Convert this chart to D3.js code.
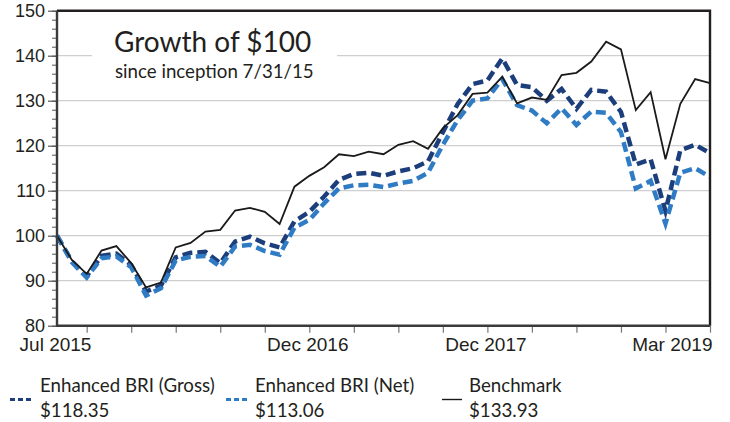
<!DOCTYPE html>
<html>
<head>
<meta charset="utf-8">
<script src="https://cdn.jsdelivr.net/npm/d3@7"></script>
<style>
  html, body { margin: 0; padding: 0; background: #fff; }
  svg { display: block; }
  .axis text { font-family: "Liberation Sans", Arial, sans-serif; fill: #231f20; }
  .note { font-family: Lato, "Open Sans", sans-serif; fill: #231f20; }
</style>
</head>
<body>
<svg id="chart" width="730" height="422"></svg>
<script>
// Month-end values of a $100 investment, Jul 2015 through Mar 2019
const months = d3.timeMonth.range(new Date(2015, 6, 1), new Date(2019, 3, 1));

const gross = [100, 94.3, 91.0, 95.5, 96.0, 93.5, 87.6, 88.9, 95.2, 96.2, 96.4, 93.9,
  98.7, 99.8, 98.3, 97.4, 103.2, 105.3, 108.7, 112.4, 113.7, 114.0, 113.3, 114.3,
  115.0, 116.5, 123.0, 129.3, 133.7, 134.5, 139.4, 133.5, 133.0, 130.0, 132.6, 128.2,
  132.4, 132.0, 127.5, 115.8, 117.0, 105.5, 119.0, 120.2, 118.35];

const net = [100, 94.1, 90.7, 95.0, 95.4, 93.0, 86.7, 88.3, 94.5, 95.3, 95.5, 93.1,
  97.6, 98.0, 96.6, 95.8, 101.8, 103.5, 107.2, 110.5, 111.2, 111.3, 110.8, 111.6,
  112.2, 114.0, 120.2, 125.7, 130.0, 130.5, 134.8, 129.0, 127.8, 125.0, 128.3, 124.6,
  127.6, 127.3, 123.0, 110.5, 112.2, 102.7, 114.0, 115.0, 113.06];

const benchmark = [100, 94.6, 91.5, 96.7, 97.7, 93.9, 88.5, 89.6, 97.4, 98.4, 100.9, 101.3,
  105.6, 106.2, 105.3, 102.6, 110.9, 113.3, 115.2, 118.1, 117.7, 118.7, 118.1, 120.2,
  121.0, 119.3, 123.9, 126.8, 131.5, 131.8, 135.3, 129.4, 130.7, 130.2, 135.7, 136.2,
  138.7, 143.1, 141.4, 127.9, 131.9, 117.0, 129.3, 134.8, 133.93];

const yTicks = [80, 90, 100, 110, 120, 130, 140, 150];
const xLabels = ["Jul 2015", "Dec 2016", "Dec 2017", "Mar 2019"];

const seriesNames = ["Enhanced BRI (Gross)", "Enhanced BRI (Net)", "Benchmark"];
const seriesEnds = [gross, net, benchmark].map(s => s[s.length - 1]);

const fmtMonth = d3.timeFormat("%b %Y");

const svg = d3.select("#chart");
const plotL = 57, plotR = 710, plotT = 10.7, plotB = 325.7;

const x = d3.scaleLinear().domain([0, months.length - 1]).range([plotL, plotR]);
const y = d3.scaleLinear().domain([80, 150]).range([plotB, plotT]);

// horizontal gridlines
svg.append("g")
  .selectAll("line")
  .data(yTicks.filter(v => v > 80 && v < 150))
  .join("line")
  .attr("x1", plotL).attr("x2", plotR)
  .attr("y1", d => y(d)).attr("y2", d => y(d))
  .attr("stroke", "#cfcfcf").attr("stroke-width", 1.3);

// title panel sits over the grid
svg.append("rect")
  .attr("x", 92).attr("y", 20).attr("width", 245).attr("height", 72)
  .attr("fill", "#fff");

svg.append("text").attr("class", "note")
  .attr("x", 114).attr("y", 52)
  .attr("font-size", 28)
  .text("Growth of $100");
svg.append("text").attr("class", "note")
  .attr("x", 115).attr("y", 78)
  .attr("font-size", 18.7)
  .text("since inception 7/31/15");

// quarter-end tick marks along the bottom
const quarterIdx = months.map((m, i) => i).filter(i => months[i].getMonth() % 3 === 2);
svg.append("g").attr("class", "axis")
  .attr("transform", `translate(0,${plotB})`)
  .call(d3.axisBottom(x).tickValues(quarterIdx).tickSize(7).tickFormat(""))
  .call(g => g.select(".domain").remove())
  .call(g => g.selectAll(".tick line").attr("stroke", "#777").attr("stroke-width", 1.2));

// date labels
const labelIdx = xLabels.map(l => months.findIndex(m => fmtMonth(m) === l));
svg.append("g").attr("class", "axis")
  .attr("transform", `translate(0,${plotB})`)
  .call(d3.axisBottom(x).tickValues(labelIdx).tickSize(0).tickPadding(12)
    .tickFormat(i => fmtMonth(months[i])))
  .call(g => g.select(".domain").remove())
  .call(g => g.selectAll(".tick text").attr("font-size", 19).attr("dx", -2))
  .call(g => g.selectAll(".tick").filter(i => i === months.length - 1)
    .select("text").attr("text-anchor", "end").attr("dx", 2));

// y axis: minor ticks every 2, labelled majors every 10
svg.append("g").attr("class", "axis")
  .attr("transform", `translate(${plotL},0)`)
  .call(d3.axisLeft(y).tickValues(d3.range(80, 151, 2)).tickSize(5).tickFormat(""))
  .call(g => g.select(".domain").remove())
  .call(g => g.selectAll(".tick line").attr("stroke", "#555").attr("stroke-width", 1));
svg.append("g").attr("class", "axis")
  .attr("transform", `translate(${plotL},0)`)
  .call(d3.axisLeft(y).tickValues(yTicks).tickSize(9).tickPadding(3).tickFormat(d3.format("d")))
  .call(g => g.select(".domain").remove())
  .call(g => g.selectAll(".tick line").attr("stroke", "#555").attr("stroke-width", 1.2))
  .call(g => g.selectAll(".tick text").attr("font-size", 18));

// series lines
const line = d3.line().x((d, i) => x(i)).y(d => y(d));
svg.append("path").datum(gross)
  .attr("d", line).attr("fill", "none")
  .attr("stroke", "#1c3f7c").attr("stroke-width", 4.5)
  .attr("stroke-dasharray", "10,5");
svg.append("path").datum(net)
  .attr("d", line).attr("fill", "none")
  .attr("stroke", "#2f7cc5").attr("stroke-width", 4.5)
  .attr("stroke-dasharray", "10,5");
svg.append("path").datum(benchmark)
  .attr("d", line).attr("fill", "none")
  .attr("stroke", "#1a1a1a").attr("stroke-width", 1.8)
  .attr("stroke-linejoin", "miter");

// plot frame
svg.append("path")
  .attr("d", `M${plotL},${plotT}H${plotR}V${plotB}`)
  .attr("fill", "none").attr("stroke", "#231f20").attr("stroke-width", 2.4);
svg.append("path")
  .attr("d", `M${plotL},${plotT}V${plotB}H${plotR}`)
  .attr("fill", "none").attr("stroke", "#3a3a3a").attr("stroke-width", 2.4);

// legend
const legendItems = [
  { x: 10, tx: 40, color: "#1c3f7c", dash: "5,3", width: 3 },
  { x: 226, tx: 255, color: "#2f7cc5", dash: "5,3", width: 3 },
  { x: 442, tx: 469, color: "#1a1a1a", dash: null, width: 1.4 }
];
const lg = svg.append("g");
legendItems.forEach((it, k) => {
  lg.append("line")
    .attr("x1", it.x).attr("x2", it.x + (it.dash ? 24 : 20))
    .attr("y1", 399.5).attr("y2", 399.5)
    .attr("stroke", it.color).attr("stroke-width", it.width)
    .attr("stroke-dasharray", it.dash);
  lg.append("text").attr("class", "note")
    .attr("x", it.tx).attr("y", 392)
    .attr("font-size", 18.7)
    .text(seriesNames[k]);
  lg.append("text").attr("class", "note")
    .attr("x", it.tx).attr("y", 417)
    .attr("font-size", 18.7)
    .text("$" + d3.format(".2f")(seriesEnds[k]));
});
</script>
</body>
</html>
